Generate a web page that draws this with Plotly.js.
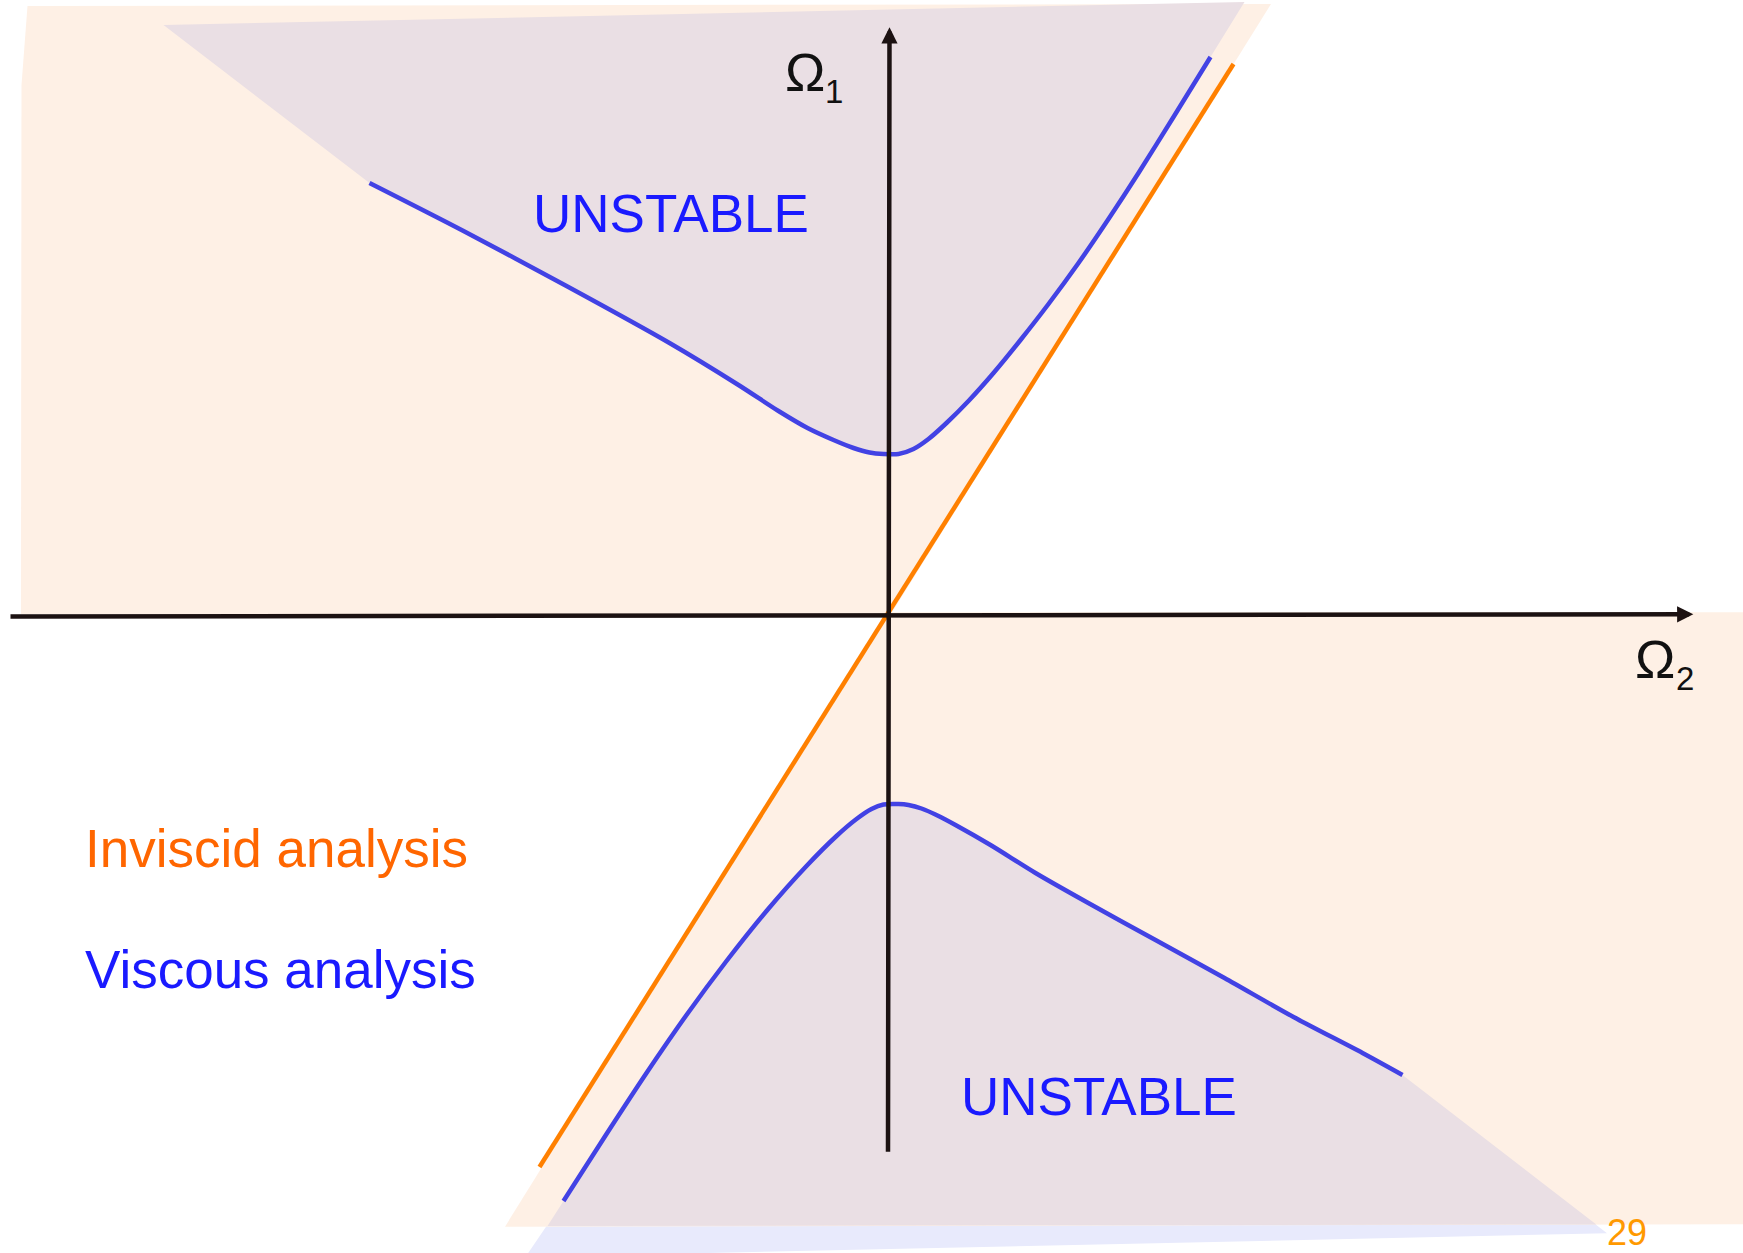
<!DOCTYPE html>
<html>
<head>
<meta charset="utf-8">
<script src="https://cdn.plot.ly/plotly-3.0.1.min.js"></script>
<style>
  html, body { margin: 0; padding: 0; background: #ffffff; }
  #chart { width: 1743px; height: 1253px; }
</style>
</head>
<body>
<div id="chart"></div>
<script>
// ---- Data (Ω2 on the horizontal axis, Ω1 on the vertical axis, schematic units) ----
// Viscous stability boundary, upper branch
const upperViscousO2 = [-5.19, -4.25, -3.22, -2.19, -1.50, -1.10, -0.81, -0.55, -0.35, -0.19, -0.05, 0.10, 0.25, 0.40, 0.58, 0.80, 1.05, 1.32, 1.60, 1.90, 2.20, 2.50, 2.85, 3.22];
const upperViscousO1 = [4.32, 3.84, 3.29, 2.72, 2.30, 2.04, 1.87, 1.75, 1.67, 1.625, 1.61, 1.61, 1.66, 1.76, 1.92, 2.14, 2.42, 2.75, 3.11, 3.52, 3.96, 4.42, 4.98, 5.58];
// Viscous stability boundary, lower branch
const lowerViscousO2 = [-3.25, -2.82, -2.42, -2.02, -1.62, -1.22, -0.82, -0.52, -0.32, -0.17, -0.05, 0.10, 0.20, 0.33, 0.50, 0.67, 1.02, 1.47, 1.98, 2.67, 3.36, 4.05, 4.74, 5.14];
const lowerViscousO1 = [-5.86, -5.19, -4.58, -4.00, -3.46, -2.96, -2.51, -2.21, -2.04, -1.94, -1.895, -1.89, -1.90, -1.935, -2.01, -2.10, -2.30, -2.58, -2.87, -3.25, -3.63, -4.02, -4.38, -4.60];
// Inviscid boundary (straight line through the origin)
const inviscidO2 = [-3.49, 3.45];
const inviscidO1 = [-5.52, 5.51];

// Shaded regions (corner points)
const peachUpperO2 = [-8.61, -8.67, -8.675, 0.025, 3.825];
const peachUpperO1 = [6.09, 5.30, 0.01, 0.01, 6.11];
const peachLowerO2 = [-0.015, 8.7, 8.7, -3.835];
const peachLowerO1 = [0.027, 0.027, -6.093, -6.117];
const unstableUpperCornerO2 = [-7.25, 3.56];
const unstableUpperCornerO1 = [5.90, 6.13];
const unstableLowerCornerO2 = [7.185, -3.63];
const unstableLowerCornerO1 = [-6.183, -6.42];
const unstableLowerClipO2 = [7.078, -3.41];
const unstableLowerClipO1 = [-6.095, -6.11];

// Axes
const axisO2 = {from: [-8.795, -0.015], to: [8.048, 0.007]};
const axisO1 = {from: [-0.005, -5.383], to: [0.01, 5.877]};

// Labels
const labelUnstable = 'UNSTABLE';
const labelInviscid = 'Inviscid analysis';
const labelViscous = 'Viscous analysis';
const pageNumber = '29';

// ---- Build region polygons from the data ----
const rev = a => a.slice().reverse();
const mauveUpperX = [unstableUpperCornerO2[0], unstableUpperCornerO2[1]].concat(rev(upperViscousO2));
const mauveUpperY = [unstableUpperCornerO1[0], unstableUpperCornerO1[1]].concat(rev(upperViscousO1));
const lavLowerX = lowerViscousO2.concat(unstableLowerCornerO2);
const lavLowerY = lowerViscousO1.concat(unstableLowerCornerO1);
const mauveLowerX = lowerViscousO2.concat(unstableLowerClipO2);
const mauveLowerY = lowerViscousO1.concat(unstableLowerClipO1);

const PEACH = '#FEF0E5';
const MAUVE = '#EADFE4';
const LAVENDER = '#E8EAFC';
const BLUE_LINE = '#4242E4';
const ORANGE_LINE = '#FF8000';
const TEXT_BLUE = '#1A1AFF';
const FONT = 'Liberation Sans, Arial, sans-serif';

function region(x, y, color) {
  return {x: x, y: y, type: 'scatter', mode: 'lines', fill: 'toself', fillcolor: color,
          line: {width: 0, color: color}, hoverinfo: 'skip'};
}

const traces = [
  region(lavLowerX, lavLowerY, LAVENDER),
  region(peachUpperO2, peachUpperO1, PEACH),
  region(peachLowerO2, peachLowerO1, PEACH),
  region(mauveUpperX, mauveUpperY, MAUVE),
  region(mauveLowerX, mauveLowerY, MAUVE),
  {x: inviscidO2, y: inviscidO1, type: 'scatter', mode: 'lines', line: {color: ORANGE_LINE, width: 4.5}},
  {x: upperViscousO2, y: upperViscousO1, type: 'scatter', mode: 'lines', line: {color: BLUE_LINE, width: 4.5, shape: 'spline', smoothing: 0.8}},
  {x: lowerViscousO2, y: lowerViscousO1, type: 'scatter', mode: 'lines', line: {color: BLUE_LINE, width: 4.5, shape: 'spline', smoothing: 0.8}}
];

function arrow(ax) {
  return {xref: 'x', yref: 'y', axref: 'x', ayref: 'y', x: ax.to[0], y: ax.to[1], ax: ax.from[0], ay: ax.from[1],
          text: '', showarrow: true, arrowhead: 2, arrowsize: 0.72, arrowwidth: 4.5, arrowcolor: '#1c1212', standoff: 0};
}
function label(text, x, y, size, color, anchor) {
  return {xref: 'x', yref: 'y', x: x, y: y, text: text, showarrow: false, xanchor: anchor || 'center', yanchor: 'middle',
          font: {family: FONT, size: size, color: color}};
}

const layout = {
  width: 1743, height: 1253,
  margin: {l: 0, r: 0, t: 0, b: 0, pad: 0},
  paper_bgcolor: '#ffffff', plot_bgcolor: '#ffffff',
  showlegend: false,
  xaxis: {range: [-8.885, 8.545], visible: false, fixedrange: true},
  yaxis: {range: [-6.38, 6.15], visible: false, fixedrange: true},
  annotations: [
    arrow(axisO2),
    arrow(axisO1),
    label(labelUnstable, -2.18, 4.02, 53, TEXT_BLUE),
    label(labelUnstable, 2.10, -4.81, 53, TEXT_BLUE),
    label(labelInviscid, -8.06, -2.33, 53, '#FF6600', 'left'),
    label(labelViscous, -8.06, -3.54, 53, TEXT_BLUE, 'left'),
    label('Ω', -0.835, 5.427, 54, '#111111'),
    label('1', -0.55, 5.235, 33, '#111111'),
    label('Ω', 7.662, -0.44, 54, '#111111'),
    label('2', 7.96, -0.632, 33, '#111111'),
    label(pageNumber, 7.385, -6.17, 36, '#FF9900')
  ]
};

Plotly.newPlot('chart', traces, layout, {displayModeBar: false, staticPlot: true});
</script>
</body>
</html>
